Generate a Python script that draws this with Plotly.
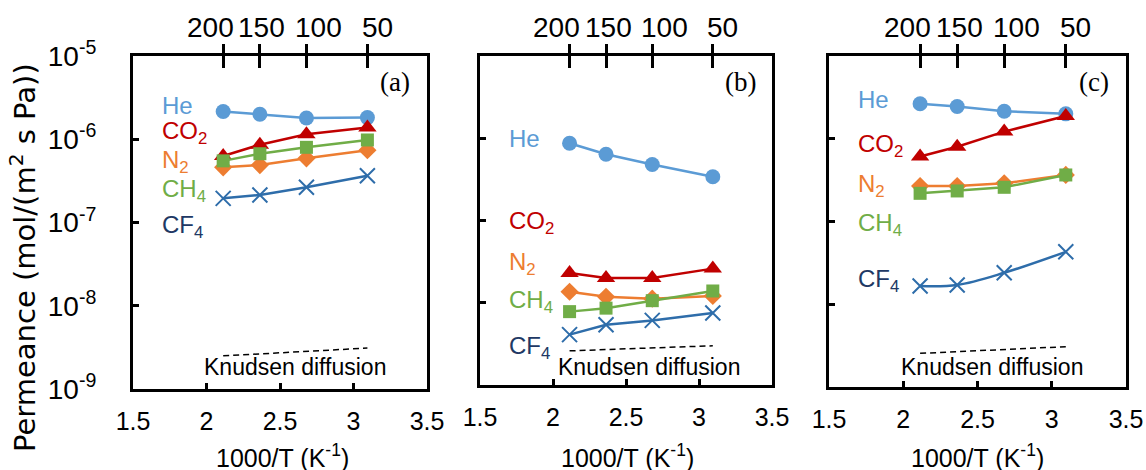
import plotly.graph_objects as go

# ---------------- data ----------------
temps_C = [200, 150, 100, 50]
inv_T = [1000.0 / (t + 273.15) for t in temps_C]
top_labels = ["200", "150", "100", "50"]

gases = ["He", "CO2", "N2", "CH4", "CF4"]
gas_text = ["He", "CO<sub>2</sub>", "N<sub>2</sub>", "CH<sub>4</sub>", "CF<sub>4</sub>"]

a_He = [2.15e-6, 2.0e-6, 1.8e-6, 1.82e-6]
a_CO2 = [6.3e-7, 8.6e-7, 1.15e-6, 1.38e-6]
a_N2 = [4.6e-7, 4.9e-7, 5.9e-7, 7.4e-7]
a_CH4 = [5.5e-7, 6.7e-7, 8.0e-7, 9.8e-7]
a_CF4 = [1.95e-7, 2.14e-7, 2.65e-7, 3.65e-7]

b_He = [8.7e-7, 6.4e-7, 4.8e-7, 3.4e-7]
b_CO2 = [2.3e-8, 2.0e-8, 2.0e-8, 2.6e-8]
b_N2 = [1.36e-8, 1.18e-8, 1.12e-8, 1.21e-8]
b_CH4 = [7.8e-9, 8.6e-9, 1.06e-8, 1.39e-8]
b_CF4 = [4.1e-9, 5.4e-9, 6.1e-9, 7.5e-9]

c_He = [2.65e-6, 2.45e-6, 2.15e-6, 2.0e-6]
c_CO2 = [6.1e-7, 8.0e-7, 1.22e-6, 1.88e-6]
c_N2 = [2.68e-7, 2.68e-7, 2.9e-7, 3.65e-7]
c_CH4 = [2.19e-7, 2.34e-7, 2.59e-7, 3.65e-7]
c_CF4 = [1.66e-8, 1.71e-8, 2.4e-8, 4.3e-8]

knudsen_a = [2.5e-9, 3.1e-9]
knudsen_b = [2.6e-9, 3.0e-9]
knudsen_c = [2.55e-9, 3.07e-9]

# label y positions (log10) for gas names in each panel
label_y_a = [-5.60, -5.92, -6.27, -6.61, -7.05]
label_y_b = [-6.00, -7.03, -7.52, -7.99, -8.54]
label_y_c = [-5.53, -6.08, -6.56, -7.04, -7.71]

panel_letters = ["(a)", "(b)", "(c)"]
x_ticks = [1.5, 2, 2.5, 3, 3.5]
y_ticks = [1e-9, 1e-8, 1e-7, 1e-6, 1e-5]
y_ticktext = ["10<sup>-9</sup>", "10<sup>-8</sup>", "10<sup>-7</sup>", "10<sup>-6</sup>", "10<sup>-5</sup>"]

# ---------------- styles ----------------
W, H = 1146, 470
SANS = "Liberation Sans, Arial, sans-serif"


def xp(px):
    return px / W


def yp(py):
    return 1 - py / H


colors = {"He": "#5B9BD5", "CO2": "#C00000", "N2": "#ED7D31", "CH4": "#70AD47", "CF4": "#2E6DAA"}
label_colors = {"He": "#5B9BD5", "CO2": "#C00000", "N2": "#ED7D31", "CH4": "#70AD47", "CF4": "#203864"}
symbols = {"He": "circle", "CO2": "triangle-up", "N2": "diamond", "CH4": "square", "CF4": "x-thin"}
sizes = {"He": 15, "CO2": 16, "N2": 14, "CH4": 13, "CF4": 15}

# pixel boxes of the three panels: (left, right, top, bottom)
boxes = [(133, 427, 56, 389), (480, 772, 56, 385), (829, 1126, 56, 387)]

panels = [
    dict(data=[a_He, a_CO2, a_N2, a_CH4, a_CF4], kn=knudsen_a, ly=label_y_a, spline=[]),
    dict(data=[b_He, b_CO2, b_N2, b_CH4, b_CF4], kn=knudsen_b, ly=label_y_b, spline=[]),
    dict(data=[c_He, c_CO2, c_N2, c_CH4, c_CF4], kn=knudsen_c, ly=label_y_c, spline=["CF4"]),
]

fig = go.Figure()
annotations = []
layout = {}

top_shifts = [-13, 2, 12, 10]

for i, p in enumerate(panels):
    n = i + 1
    xb = "x" if n == 1 else f"x{n}"
    yb = "y" if n == 1 else f"y{n}"
    xt1 = f"x{3 + 2 * i + 1}"
    xt2 = f"x{3 + 2 * i + 2}"
    l, r, t, b = boxes[i]
    xdom = [xp(l), xp(r)]
    ydom = [yp(b), yp(t)]

    layout["xaxis" if n == 1 else f"xaxis{n}"] = dict(
        domain=xdom, anchor=yb, range=[1.5, 3.5], tickvals=x_ticks,
        ticktext=["1.5", "2", "2.5", "3", "3.5"], automargin=False,
        ticks="inside", ticklen=6, tickwidth=3, tickcolor="black",
        showline=True, linewidth=3, linecolor="black", mirror=True,
        showgrid=False, zeroline=False, tickangle=0,
        tickfont=dict(family=SANS, size=25, color="black"), ticklabelstandoff=8,
    )
    layout[f"xaxis{3 + 2 * i + 1}"] = dict(
        overlaying=xb, anchor=yb, side="top", range=[1.5, 3.5], tickvals=inv_T, automargin=False,
        ticks="outside", ticklen=11, tickwidth=3, tickcolor="black",
        showticklabels=False, showline=False, showgrid=False, zeroline=False,
    )
    layout[f"xaxis{3 + 2 * i + 2}"] = dict(
        overlaying=xb, anchor=yb, side="top", range=[1.5, 3.5], tickvals=inv_T, automargin=False,
        ticks="inside", ticklen=12, tickwidth=3, tickcolor="black",
        showticklabels=False, showline=False, showgrid=False, zeroline=False,
    )
    layout["yaxis" if n == 1 else f"yaxis{n}"] = dict(
        domain=ydom, anchor=xb, type="log", range=[-9, -5], automargin=False,
        tickvals=y_ticks, ticktext=y_ticktext, showticklabels=(n == 1),
        ticks="inside", ticklen=6, tickwidth=3, tickcolor="black",
        showline=True, linewidth=3, linecolor="black", mirror=True,
        showgrid=False, zeroline=False,
        tickfont=dict(family=SANS, size=28, color="black"), ticklabelstandoff=28,
    )

    # dummy traces so that overlay top axes are drawn
    for xt in (xt1, xt2):
        fig.add_trace(go.Scatter(x=[inv_T[0]], y=[1e-9], xaxis=xt, yaxis=yb, mode="markers",
                                 marker=dict(opacity=0, size=1), hoverinfo="skip", showlegend=False))

    # Knudsen line
    fig.add_trace(go.Scatter(x=[inv_T[0], inv_T[-1]], y=p["kn"], xaxis=xb, yaxis=yb, mode="lines",
                             line=dict(color="black", width=1.5, dash="6px,4px"),
                             hoverinfo="skip", showlegend=False))

    for g, vals in zip(gases, p["data"]):
        if g == "CF4":
            marker = dict(symbol=symbols[g], size=sizes[g], color=colors[g],
                          line=dict(color=colors[g], width=2))
        else:
            marker = dict(symbol=symbols[g], size=sizes[g], color=colors[g], line=dict(width=0))
        fig.add_trace(go.Scatter(
            x=inv_T, y=vals, xaxis=xb, yaxis=yb, mode="lines+markers", name=g,
            line=dict(color=colors[g], width=2.5, shape="spline" if g in p["spline"] else "linear"),
            marker=marker, showlegend=False))

    # gas labels
    for g, txt, ly in zip(gases, gas_text, p["ly"]):
        annotations.append(dict(x=1.685, y=ly, xref=xb, yref=yb, text=txt, showarrow=False,
                                xanchor="left", yanchor="middle",
                                font=dict(family=SANS, size=24, color=label_colors[g])))

    # top temperature labels
    for xv, lab, sh in zip(inv_T, top_labels, top_shifts):
        annotations.append(dict(x=xv, y=yp(27), xref=xb, yref="paper", text=lab, showarrow=False,
                                xanchor="center", yanchor="middle", xshift=sh,
                                font=dict(family=SANS, size=28, color="black")))

    # panel letter
    annotations.append(dict(x=xp(r - 32), y=yp(82), xref="paper", yref="paper",
                            text=panel_letters[i], showarrow=False, xanchor="center", yanchor="middle",
                            font=dict(family="Liberation Serif, Times New Roman, serif", size=27, color="black")))

    # Knudsen diffusion text
    kx = [295, 649, 992][i]
    annotations.append(dict(x=xp(kx), y=yp(367), xref="paper", yref="paper",
                            text="Knudsen diffusion", showarrow=False, xanchor="center", yanchor="middle",
                            font=dict(family=SANS, size=23, color="black")))

    # x axis title
    tx = [282, 627, 977][i]
    annotations.append(dict(x=xp(tx), y=yp(456), xref="paper", yref="paper",
                            text="1000/T (K<sup>-1</sup>)", showarrow=False, xanchor="center", yanchor="middle",
                            font=dict(family=SANS, size=25, color="black")))

# y axis title
annotations.append(dict(x=xp(23), y=yp(258), xref="paper", yref="paper",
                        text="Permeance (mol/(m<sup>2</sup> s Pa))", textangle=-90, showarrow=False,
                        xanchor="center", yanchor="middle",
                        font=dict(family="DejaVu Sans, sans-serif", size=29, color="black")))

fig.update_layout(
    width=W, height=H, margin=dict(l=0, r=0, t=0, b=0, autoexpand=False),
    paper_bgcolor="white", plot_bgcolor="white",
    annotations=annotations, showlegend=False, **layout,
)

fig.write_html(
    "out.html",
    config={"displayModeBar": False, "staticPlot": True},
    post_script="document.body.style.margin='0';document.body.style.overflow='hidden';",
)
